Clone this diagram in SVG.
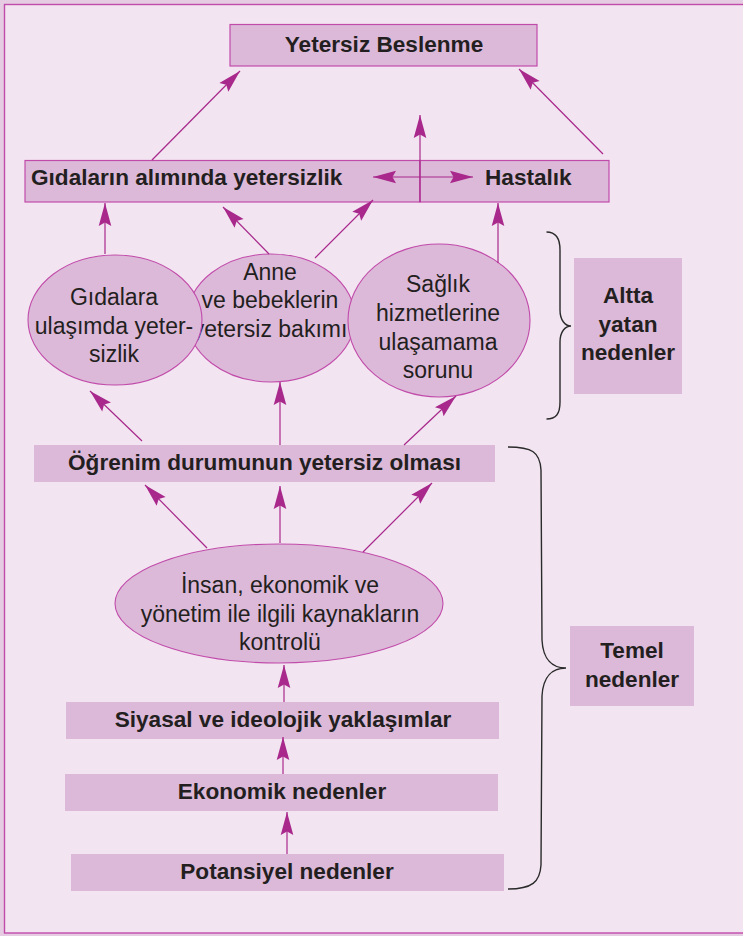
<svg xmlns="http://www.w3.org/2000/svg" width="743" height="936" viewBox="0 0 743 936">
  <style>
    .bg { fill: #F2E5F1; }
    .frame { fill: none; stroke: #C14BAA; stroke-width: 1.4; }
    .box { fill: #DDB9D9; stroke: #C14BAA; stroke-width: 1.2; }
    .boxn { fill: #DDB9D9; stroke: none; }
    .ell { fill: #DDB9D9; stroke: #C14BAA; stroke-width: 1.1; }
    .b { font-family: "Liberation Sans", Arial, sans-serif; font-weight: bold; font-size: 22.6px; fill: #231F20; }
    .r { font-family: "Liberation Sans", Arial, sans-serif; font-size: 23px; fill: #231F20; }
    .c { text-anchor: middle; }
    .conn line { stroke: #A8288C; stroke-width: 1.2; marker-end: url(#ah); }
    .brace { fill: none; stroke: #2A2A2A; stroke-width: 1.4; }
  </style>
  <defs>
    <marker id="ah" viewBox="-24 -7 25 14" markerWidth="25" markerHeight="14" refX="0" refY="0" markerUnits="userSpaceOnUse" orient="auto-start-reverse">
      <path d="M0,0 L-23,-6.3 L-19.5,0 L-23,6.3 Z" fill="#A8288C"/>
    </marker>
  </defs>

  <rect x="0" y="0" width="743" height="936" fill="#E6CCE3"/>
  <rect class="bg" x="4.5" y="4.5" width="800" height="928.5"/>
  <rect class="frame" x="4.5" y="4.5" width="800" height="928.5"/>

  <g id="yetersiz-beslenme">
    <rect class="box" x="230" y="24.5" width="307" height="41.5"/>
    <text class="b c" x="384" y="52">Yetersiz Beslenme</text>
  </g>

  <g id="gidalarin-alimi">
    <rect class="box" x="25" y="160.5" width="395" height="41.5"/>
    <text class="b" x="31" y="184.5">Gıdaların alımında yetersizlik</text>
  </g>

  <g id="hastalik">
    <rect class="box" x="420" y="160.5" width="189" height="41.5"/>
    <text class="b" x="485" y="184.5">Hastalık</text>
  </g>

  <g id="anne-bebek">
    <ellipse class="ell" cx="271" cy="318" rx="84" ry="64"/>
    <text class="r c" x="270" y="280">Anne</text>
    <text class="r c" x="270" y="308">ve bebeklerin</text>
    <text class="r c" x="270" y="337">yetersiz bakımı</text>
  </g>

  <g id="gidalara-ulasim">
    <ellipse class="ell" cx="115" cy="320" rx="87" ry="65"/>
    <text class="r c" x="114" y="305">Gıdalara</text>
    <text class="r c" x="114" y="333.5">ulaşımda yeter-</text>
    <text class="r c" x="114" y="362">sizlik</text>
  </g>

  <g id="saglik-hizmetleri">
    <ellipse class="ell" cx="439" cy="320.5" rx="91" ry="76.5"/>
    <text class="r c" x="438" y="292">Sağlık</text>
    <text class="r c" x="438" y="321">hizmetlerine</text>
    <text class="r c" x="438" y="350">ulaşamama</text>
    <text class="r c" x="438" y="378">sorunu</text>
  </g>

  <g id="altta-yatan-nedenler">
    <rect class="boxn" x="574" y="258" width="108" height="136"/>
    <text class="b c" x="628" y="303">Altta</text>
    <text class="b c" x="628" y="332">yatan</text>
    <text class="b c" x="628" y="360">nedenler</text>
  </g>

  <g id="ogrenim-durumu">
    <rect class="boxn" x="34" y="445" width="461" height="37"/>
    <text class="b c" x="264.5" y="470">Öğrenim durumunun yetersiz olması</text>
  </g>

  <g id="kaynaklarin-kontrolu">
    <ellipse class="ell" cx="279" cy="603.5" rx="164" ry="59.5"/>
    <text class="r c" x="280" y="593">İnsan, ekonomik ve</text>
    <text class="r c" x="280" y="622">yönetim ile ilgili kaynakların</text>
    <text class="r c" x="280" y="650">kontrolü</text>
  </g>

  <g id="siyasal-yaklasimlar">
    <rect class="boxn" x="66" y="702" width="433" height="37"/>
    <text class="b c" x="283" y="727">Siyasal ve ideolojik yaklaşımlar</text>
  </g>

  <g id="ekonomik-nedenler">
    <rect class="boxn" x="65" y="774" width="433" height="37"/>
    <text class="b c" x="282" y="799">Ekonomik nedenler</text>
  </g>

  <g id="potansiyel-nedenler">
    <rect class="boxn" x="71" y="854" width="433" height="37"/>
    <text class="b c" x="287" y="879">Potansiyel nedenler</text>
  </g>

  <g id="temel-nedenler">
    <rect class="boxn" x="570" y="626" width="124" height="80"/>
    <text class="b c" x="632" y="658">Temel</text>
    <text class="b c" x="632" y="687">nedenler</text>
  </g>

  <g id="braces">
    <path class="brace" d="M546.5,232 C556,232 560,238 560,250 L560,310 C560,320 565,326 571,326 C565,326 560,332 560,342 L560,402 C560,414 556,419 546.5,419"/>
    <path class="brace" d="M508,447 C532,447 540,452 541,470 L542,640 C543,660 553,668 566,668 C553,668 543,676 542,696 L541,865 C540,882 532,889 508,889"/>
  </g>

  <g id="connectors" class="conn">
    <line x1="152" y1="160" x2="240" y2="71"/>
    <line x1="603" y1="154" x2="519" y2="69"/>
    <line x1="420" y1="202" x2="420" y2="115"/>
    <line x1="373" y1="177" x2="473" y2="177" style="marker-start: url(#ah)"/>
    <line x1="105" y1="254" x2="105" y2="203"/>
    <line x1="269" y1="254" x2="223" y2="207"/>
    <line x1="315" y1="258" x2="373" y2="200"/>
    <line x1="498" y1="263" x2="498" y2="203"/>
    <line x1="142" y1="441" x2="90" y2="391"/>
    <line x1="280" y1="445" x2="280" y2="382"/>
    <line x1="404" y1="445" x2="456" y2="396"/>
    <line x1="207" y1="548" x2="145" y2="485"/>
    <line x1="280" y1="543" x2="280" y2="486"/>
    <line x1="363" y1="552" x2="432" y2="483"/>
    <line x1="284" y1="702" x2="284" y2="665"/>
    <line x1="283" y1="774" x2="283" y2="737"/>
    <line x1="287" y1="854" x2="287" y2="812"/>
  </g>
</svg>
